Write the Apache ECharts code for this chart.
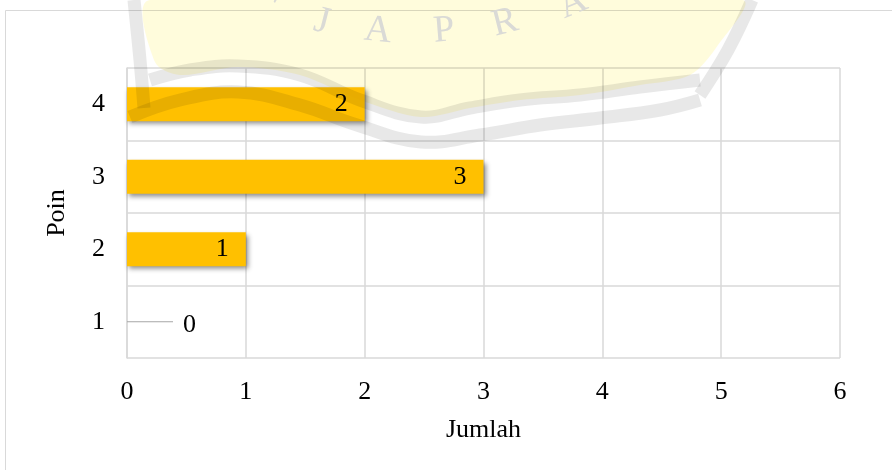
<!DOCTYPE html>
<html>
<head>
<meta charset="utf-8">
<script src="https://cdn.jsdelivr.net/npm/echarts@6/dist/echarts.min.js"></script>
<style>
  html, body { margin: 0; padding: 0; background: #fff; }
  #chart { width: 892px; height: 470px; }
</style>
</head>
<body>
<div id="chart"></div>
<script>
// data
const poin = ['1', '2', '3', '4'];
const jumlah = [0, 1, 3, 2];
const xTicks = [0, 1, 2, 3, 4, 5, 6];

const myChart = echarts.init(document.getElementById('chart'), null, { renderer: 'canvas' });

const font = 'Liberation Serif';
const fs = 26;

// watermark (logo behind the chart in the source document)
const wmBand = { stroke: '#e8e8e8', lineWidth: 13, fill: 'none', blend: 'multiply' };
const wmLetter = (t, x, y, r) => ({
    type: 'text', x: x, y: y, rotation: r, z: 101,
    style: { text: t, font: '38px ' + font, fill: '#dadad6', blend: 'multiply', align: 'center', verticalAlign: 'middle' }
});
const watermark = [
    {
        type: 'polygon', z: 100,
        shape: { smooth: 0.3, points: [[150, 0], [742, 0], [718, 45], [690, 75], [640, 85], [580, 95], [520, 100], [470, 108], [421, 117], [360, 100], [300, 75], [238, 67], [180, 75], [155, 62]] },
        style: { fill: '#fffcdc', blend: 'multiply' }
    },
    { type: 'polyline', z: 100, shape: { smooth: 0.4, points: [[134, 0], [140, 60], [144, 108]] }, style: wmBand },
    { type: 'polyline', z: 100, shape: { smooth: 0.4, points: [[752, 0], [728, 50], [700, 95]] }, style: wmBand },
    { type: 'polyline', z: 100, shape: { smooth: 0.4, points: [[150, 80], [190, 70], [238, 66], [300, 75], [360, 100], [421, 117], [470, 108], [520, 100], [580, 95], [640, 87], [700, 80]] }, style: wmBand },
    { type: 'polyline', z: 100, shape: { smooth: 0.4, points: [[130, 117], [180, 100], [238, 92], [300, 105], [357, 125], [421, 142], [480, 135], [540, 125], [600, 118], [660, 110], [700, 100]] }, style: wmBand },
    wmLetter("'", 272, 8, -0.4),
    wmLetter('J', 322, 22, -0.25),
    wmLetter('A', 378, 31, -0.1),
    wmLetter('P', 444, 31, 0.08),
    wmLetter('R', 505, 23, 0.25),
    wmLetter('A', 573, 4, 0.4)
];

const option = {
    backgroundColor: '#fff',
    textStyle: { fontFamily: font },
    graphic: [
        // outer frame of the chart area
        {
            type: 'rect',
            shape: { x: 5.5, y: 10.5, width: 900, height: 500 },
            style: { fill: 'none', stroke: '#d9d9d9', lineWidth: 1 },
            z: -10
        }
    ].concat(watermark),
    grid: {
        left: 127,
        right: 52,
        top: 68,
        bottom: 112
    },
    xAxis: {
        type: 'value',
        min: 0,
        max: 6,
        interval: 1,
        name: 'Jumlah',
        nameLocation: 'middle',
        nameGap: 59,
        nameMoveOverlap: false,
        nameTextStyle: { fontFamily: font, fontSize: fs, color: '#000' },
        axisLine: { show: false },
        axisTick: { show: false },
        axisLabel: {
            fontFamily: font, fontSize: fs, color: '#000', margin: 21,
            formatter: v => xTicks.includes(v) ? String(v) : ''
        },
        splitLine: { show: true, lineStyle: { color: '#d9d9d9', width: 1.5 } }
    },
    yAxis: {
        type: 'category',
        data: poin,
        name: 'Poin',
        nameLocation: 'middle',
        nameGap: 57,
        nameRotate: 90,
        nameMoveOverlap: false,
        nameTextStyle: { fontFamily: font, fontSize: fs, color: '#000' },
        axisLine: { show: true, lineStyle: { color: '#d9d9d9', width: 1.5 } },
        axisTick: { show: false },
        axisLabel: { fontFamily: font, fontSize: fs, color: '#000', margin: 22 },
        splitLine: { show: true, lineStyle: { color: '#d9d9d9', width: 1.5 } }
    },
    series: [
        {
            type: 'bar',
            // a zero bar gets its label to the right with a small leader line, like Excel
            data: jumlah.map(v => v === 0 ? {
                value: v,
                label: {
                    position: 'right',
                    distance: 0,
                    formatter: '{line|}{num|0}',
                    rich: {
                        line: { width: 46, height: 1, backgroundColor: '#a6a6a6', verticalAlign: 'middle' },
                        num: { fontFamily: font, fontSize: fs, color: '#000', padding: [6, 0, 0, 10], verticalAlign: 'middle' }
                    }
                }
            } : v),
            barWidth: 34,
            itemStyle: {
                color: '#FFC000',
                shadowColor: 'rgba(0,0,0,0.45)',
                shadowBlur: 5,
                shadowOffsetX: 2,
                shadowOffsetY: 3
            },
            label: {
                show: true,
                position: 'insideRight',
                distance: 17,
                fontFamily: font,
                fontSize: fs,
                color: '#000'
            }
        }
    ]
};

myChart.setOption(option);
window.addEventListener('resize', myChart.resize);
</script>
</body>
</html>
